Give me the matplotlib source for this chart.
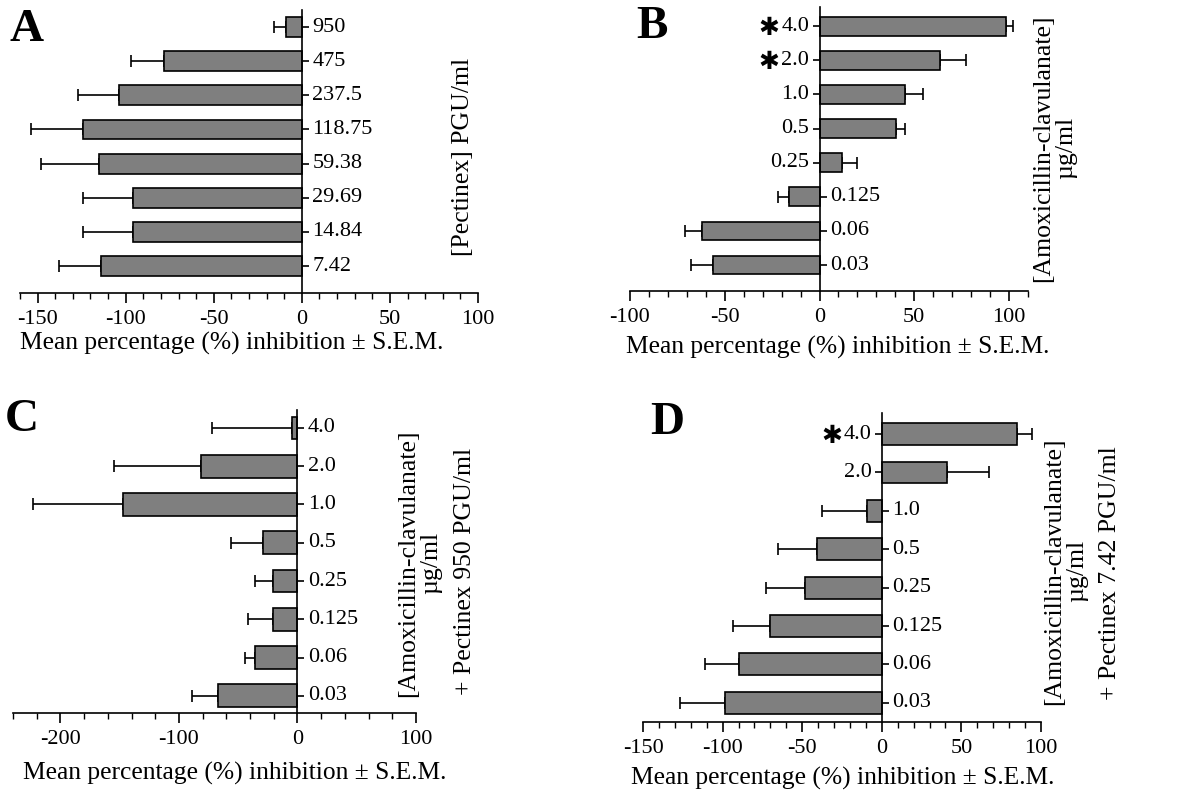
"""
Four-panel horizontal bar figure: % inhibition for Pectinex and amoxicillin-clavulanate.
Values read off the published figure.
"""

import matplotlib
matplotlib.use("Agg")
import matplotlib.pyplot as plt
from matplotlib.ticker import MultipleLocator

GREY = "#7f7f7f"
INK = "black"
plt.rcParams.update(
    {
        "font.family": ["Liberation Serif", "DejaVu Serif"],
        "font.size": 15,
        "axes.linewidth": 1.2,
        "xtick.major.width": 1.2,
        "xtick.minor.width": 1.0,
    }
)

# ── Data (top bar first, as in the figure) ───────────────────────────────────
a_labels = ["950", "475", "237.5", "118.75", "59.38", "29.69", "14.84", "7.42"]
a_mean = [-9, -78, -104, -124, -115, -96, -96, -114]
a_sem = [7, 19, 23, 30, 33, 28, 28, 24]

amox_labels = ["4.0", "2.0", "1.0", "0.5", "0.25", "0.125", "0.06", "0.03"]

b_mean = [98.5, 63.5, 45, 40.5, 12, -16, -62, -56]
b_sem = [3.5, 14, 9.5, 4.5, 8, 6, 9, 12]
b_star = [True, True, False, False, False, False, False, False]

c_mean = [-5, -81, -147.5, -29, -20.5, -20.5, -36, -67]
c_sem = [67, 74, 76, 27, 15, 21, 8.5, 22]

d_mean = [85, 41, -9, -41, -48, -70.5, -90, -98.5]
d_sem = [9.5, 26.5, 28.5, 24.5, 24.5, 23, 21, 28]
d_star = [True, False, False, False, False, False, False, False]

W, H = 1204, 794
fig = plt.figure(figsize=(W / 100, H / 100), dpi=100)


def px_axes(left, right, bottom, top):
    # pixel box -> figure fraction
    return fig.add_axes([left / W, 1 - bottom / H, (right - left) / W, (bottom - top) / H])


def px_text(x, y, s, **kw):
    fig.text(x / W, 1 - y / H, s, **kw)


def panel(ax, labels, mean, sem, xlim, ylim, major, minor, stars=None, bar_h=0.58):
    n = len(labels)
    ypos = [n - 1 - i for i in range(n)]
    ax.barh(ypos, mean, height=bar_h, color=GREY, edgecolor=INK, linewidth=1.2, zorder=2)
    lo = [s if m < 0 else 0 for m, s in zip(mean, sem)]
    hi = [s if m >= 0 else 0 for m, s in zip(mean, sem)]
    ax.errorbar(mean, ypos, xerr=[lo, hi], fmt="none", ecolor=INK, elinewidth=1.2,
                capsize=4, capthick=1.2, zorder=1)

    ax.set_xlim(*xlim)
    ax.set_ylim(*ylim)
    ax.xaxis.set_major_locator(MultipleLocator(major))
    ax.xaxis.set_minor_locator(MultipleLocator(minor))
    ax.tick_params(axis="x", which="major", direction="out", length=7, labelsize=16, pad=5)
    ax.tick_params(axis="x", which="minor", direction="out", length=4)
    ax.set_xticks(ax.get_xticks())
    ax.set_xticklabels([f"{int(t)}" for t in ax.get_xticks()])
    ax.set_xlim(*xlim)

    ax.spines[["top", "right"]].set_visible(False)
    ax.spines["left"].set_position(("data", 0))
    ax.tick_params(axis="y", length=0, labelleft=False)

    # category ticks + labels on the side away from the bar
    for y, lab, m, i in zip(ypos, labels, mean, range(n)):
        right_side = m < 0
        ax.plot([0], [y], ls="none", marker=1 if right_side else 0, ms=5, mew=1.2, color=INK)
        t = ax.annotate(lab, (0, y), xytext=(7.5 if right_side else -7.5, 0),
                        textcoords="offset points", ha="left" if right_side else "right",
                        va="center", fontsize=16)
        if stars is not None and stars[i]:
            ax.annotate("\u2731", xy=(0, 0.5), xycoords=t, xytext=(-1, -1),
                        textcoords="offset points", ha="right", va="center",
                        fontsize=18, family="DejaVu Sans", fontweight="bold")


# ── A: Pectinex alone ────────────────────────────────────────────────────────
ax = px_axes(20, 478, 293, 10)
panel(ax, a_labels, a_mean, a_sem, (-160, 100), (-0.79, 7.5), 50, 10)
px_text(27, 30, "A", fontsize=34, fontweight="bold", ha="center", va="center")
px_text(463, 157, "[Pectinex] PGU/ml", rotation=90, fontsize=18.5, ha="center", va="center")
px_text(232, 343, "Mean percentage (%) inhibition \u00b1 S.E.M.", fontsize=18.4, ha="center", va="center")

# ── B: amoxicillin-clavulanate alone ─────────────────────────────────────────
ax = px_axes(630, 1028, 291, 7)
panel(ax, amox_labels, b_mean, b_sem, (-100, 110), (-0.76, 7.56), 50, 10, stars=b_star, bar_h=0.55)
px_text(652, 27, "B", fontsize=34, fontweight="bold", ha="center", va="center")
px_text(1055, 148, "[Amoxicillin-clavulanate]\n\u00b5g/ml", rotation=90, fontsize=18.5,
        ha="center", va="center", multialignment="center", linespacing=1.05)
px_text(838, 347, "Mean percentage (%) inhibition \u00b1 S.E.M.", fontsize=18.4, ha="center", va="center")

# ── C: amoxicillin-clavulanate + Pectinex 950 PGU/ml ─────────────────────────
ax = px_axes(13, 416, 713, 410)
panel(ax, amox_labels, c_mean, c_sem, (-240, 100), (-0.45, 7.47), 100, 20, bar_h=0.6)
px_text(22, 420, "C", fontsize=34, fontweight="bold", ha="center", va="center")
px_text(420, 563, "[Amoxicillin-clavulanate]\n\u00b5g/ml", rotation=90, fontsize=18.5,
        ha="center", va="center", multialignment="center", linespacing=1.05)
px_text(465, 571, "+ Pectinex 950 PGU/ml", rotation=90, fontsize=18.5, ha="center", va="center")
px_text(235, 773, "Mean percentage (%) inhibition \u00b1 S.E.M.", fontsize=18.4, ha="center", va="center")

# ── D: amoxicillin-clavulanate + Pectinex 7.42 PGU/ml ────────────────────────
ax = px_axes(643, 1041, 722, 413)
panel(ax, amox_labels, d_mean, d_sem, (-150, 100), (-0.5, 7.55), 50, 10, stars=d_star, bar_h=0.57)
px_text(667, 423, "D", fontsize=34, fontweight="bold", ha="center", va="center")
px_text(1066, 571, "[Amoxicillin-clavulanate]\n\u00b5g/ml", rotation=90, fontsize=18.5,
        ha="center", va="center", multialignment="center", linespacing=1.05)
px_text(1110, 573, "+ Pectinex 7.42 PGU/ml", rotation=90, fontsize=18.5, ha="center", va="center")
px_text(843, 778, "Mean percentage (%) inhibition \u00b1 S.E.M.", fontsize=18.4, ha="center", va="center")

fig.savefig("out.png", dpi=100, facecolor="white")
